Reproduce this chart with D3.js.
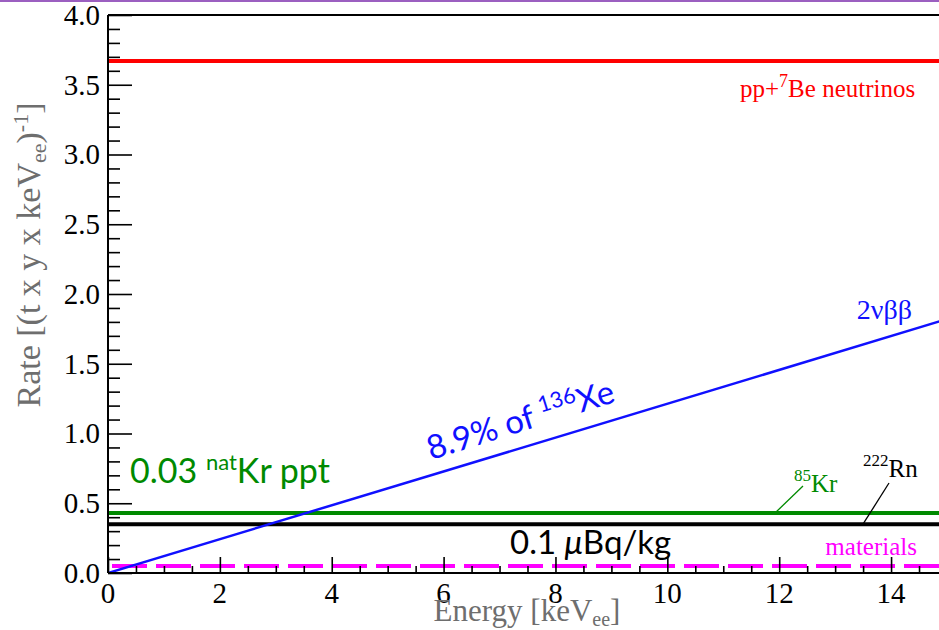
<!DOCTYPE html>
<html>
<head>
<meta charset="utf-8">
<script src="https://cdn.jsdelivr.net/npm/d3@7"></script>
<style>
  html, body { margin: 0; padding: 0; background: #fff; }
  svg { display: block; }
</style>
</head>
<body>
<svg id="chart" width="939" height="630"></svg>
<script>
// Background rates in the low-energy window
const energyRange = [0, 15];                 // keV_ee
const ppBeRate = [3.67, 3.67];               // pp + 7Be solar neutrinos
const krRate = [0.43, 0.43];                 // 85Kr at 0.03 ppt natKr
const rnRate = [0.35, 0.35];                 // 222Rn at 0.1 uBq/kg
const materialsRate = [0.05, 0.05];          // detector materials
const doubleBetaRate = [0.0, 1.82];          // 2vbb of 136Xe (linear rise)
const xTicks = [0, 2, 4, 6, 8, 10, 12, 14];
const yTicks = [0.0, 0.5, 1.0, 1.5, 2.0, 2.5, 3.0, 3.5, 4.0];

(function draw() {
const svg = d3.select("#chart");
const W = 939, H = 630;
const plotL = 108, plotT = 15, plotB = 573, plotR = 947;

const x = d3.scaleLinear().domain([0, 15]).range([plotL, plotR]);
const y = d3.scaleLinear().domain([0, 4]).range([plotB, plotT]);

svg.append("rect").attr("width", W).attr("height", H).attr("fill", "#fff");
// thin purple rule along the top of the slide
svg.append("rect").attr("x", 0).attr("y", 0).attr("width", W).attr("height", 2).attr("fill", "#9b5fc0");

const serif = "Liberation Serif, Times New Roman, serif";
const sans = "Lato, Open Sans, sans-serif";

svg.append("clipPath").attr("id", "plotclip")
  .append("rect").attr("x", plotL).attr("y", plotT).attr("width", plotR - plotL).attr("height", plotB - plotT);

const plot = svg.append("g").attr("clip-path", "url(#plotclip)");
const line = d3.line().x(d => x(d[0])).y(d => y(d[1]));
const series = (vals) => energyRange.map((e, i) => [e, vals[i]]);

plot.append("path").datum(series(ppBeRate)).attr("d", line)
  .attr("fill", "none").attr("stroke", "#ff0000").attr("stroke-width", 4);
plot.append("path").datum(series(krRate)).attr("d", line)
  .attr("fill", "none").attr("stroke", "#008a00").attr("stroke-width", 4);
plot.append("path").datum(series(rnRate)).attr("d", line)
  .attr("fill", "none").attr("stroke", "#000").attr("stroke-width", 4);
plot.append("path").datum(series(materialsRate)).attr("d", line)
  .attr("fill", "none").attr("stroke", "#ff00ff").attr("stroke-width", 4)
  .attr("stroke-dasharray", "35,9").attr("stroke-dashoffset", -4);
plot.append("path").datum(series(doubleBetaRate)).attr("d", line)
  .attr("fill", "none").attr("stroke", "#1010ff").attr("stroke-width", 2.5);

// Axes: ticks drawn inward
const yAxis = d3.axisRight(y)
  .tickValues(d3.range(0, 4.0001, 0.1))
  .tickSize(12).tickFormat("");
const gy = svg.append("g").attr("transform", `translate(${plotL},0)`).call(yAxis);
gy.selectAll(".tick line")
  .attr("x2", d => (Math.abs(d * 2 - Math.round(d * 2)) < 1e-6) ? 24 : 12)
  .attr("stroke", "#000").attr("stroke-width", 1.6);
gy.select(".domain").remove();

const xAxis = d3.axisTop(x)
  .tickValues(d3.range(0, 15.0001, 0.5))
  .tickSize(7).tickFormat("");
const gx = svg.append("g").attr("transform", `translate(0,${plotB})`).call(xAxis);
gx.selectAll(".tick line")
  .attr("y2", d => (Math.abs(d / 2 - Math.round(d / 2)) < 1e-6) ? -16 : -7)
  .attr("stroke", "#000").attr("stroke-width", 1.6);
gx.select(".domain").remove();

// Frame
svg.append("line").attr("x1", plotL).attr("x2", plotL).attr("y1", plotT).attr("y2", plotB)
  .attr("stroke", "#000").attr("stroke-width", 2);
svg.append("line").attr("x1", plotL).attr("x2", W).attr("y1", plotB).attr("y2", plotB)
  .attr("stroke", "#000").attr("stroke-width", 2);
svg.append("line").attr("x1", plotL).attr("x2", W).attr("y1", plotT).attr("y2", plotT)
  .attr("stroke", "#000").attr("stroke-width", 2);

// Tick labels
svg.append("g").selectAll("text").data(yTicks).join("text")
  .attr("x", 100).attr("y", d => y(d)).attr("dy", "0.34em")
  .attr("text-anchor", "end").style("font-family", serif).attr("font-size", 29)
  .attr("fill", "#000").text(d => d.toFixed(1));
svg.append("g").selectAll("text").data(xTicks).join("text")
  .attr("x", d => x(d)).attr("y", 603)
  .attr("text-anchor", "middle").style("font-family", serif).attr("font-size", 29)
  .attr("fill", "#000").text(d => d);

// Axis titles
const xt = svg.append("text").attr("x", 527).attr("y", 621).attr("text-anchor", "middle")
  .style("font-family", serif).attr("font-size", 31).attr("fill", "#6e6e6e");
xt.append("tspan").text("Energy [keV");
xt.append("tspan").attr("font-size", 20).attr("dy", 5).text("ee");
xt.append("tspan").attr("dy", -5).text("]");

const yt = svg.append("text").attr("transform", "translate(40,255) rotate(-90)")
  .attr("text-anchor", "middle").style("font-family", serif).attr("font-size", 34).attr("fill", "#6e6e6e");
yt.append("tspan").text("Rate [(t x y x keV");
yt.append("tspan").attr("font-size", 22).attr("dy", 6).text("ee");
yt.append("tspan").attr("dy", -6).text(")");
yt.append("tspan").attr("font-size", 22).attr("dy", -12).text("-1");
yt.append("tspan").attr("dy", 12).text("]");

// Annotations
const pp = svg.append("text").attr("x", 740).attr("y", 97)
  .style("font-family", serif).attr("font-size", 25).attr("fill", "#ff0000");
pp.append("tspan").text("pp+");
pp.append("tspan").attr("font-size", 18).attr("dy", -10).text("7");
pp.append("tspan").attr("dy", 10).text("Be neutrinos");

svg.append("text").attr("x", 912).attr("y", 319).attr("text-anchor", "end")
  .style("font-family", serif).attr("font-size", 28).attr("fill", "#1010ff").text("2νββ");

const xe = svg.append("text").attr("transform", "translate(431,460) rotate(-17.5)")
  .style("font-family", sans).attr("font-size", 33).attr("fill", "#1010ff");
xe.append("tspan").text("8.9% of ");
xe.append("tspan").attr("font-size", 22).attr("dy", -12).text("136");
xe.append("tspan").attr("dy", 12).text("Xe");

const nat = svg.append("text").attr("x", 130).attr("y", 483)
  .style("font-family", sans).attr("font-size", 34).attr("fill", "#008a00");
nat.append("tspan").text("0.03 ");
nat.append("tspan").attr("font-size", 22).attr("dy", -13).text("nat");
nat.append("tspan").attr("dy", 13).text("Kr ppt");

const bq = svg.append("text").attr("x", 510).attr("y", 554)
  .style("font-family", sans).attr("font-size", 33).attr("fill", "#000");
bq.append("tspan").text("0.1 ");
bq.append("tspan").attr("font-style", "italic").text("μ");
bq.append("tspan").text("Bq/kg");

svg.append("text").attr("x", 917).attr("y", 555).attr("text-anchor", "end")
  .style("font-family", serif).attr("font-size", 25).attr("fill", "#ff00ff").text("materials");

const kr = svg.append("text").attr("x", 794).attr("y", 492)
  .style("font-family", serif).attr("font-size", 25).attr("fill", "#008a00");
kr.append("tspan").attr("font-size", 17).attr("dy", -11).text("85");
kr.append("tspan").attr("dy", 11).text("Kr");
svg.append("line").attr("x1", 803).attr("y1", 486).attr("x2", 775).attr("y2", y(krRate[0]))
  .attr("stroke", "#008a00").attr("stroke-width", 1.3);

const rn = svg.append("text").attr("x", 863).attr("y", 477)
  .style("font-family", serif).attr("font-size", 25).attr("fill", "#000");
rn.append("tspan").attr("font-size", 17).attr("dy", -11).text("222");
rn.append("tspan").attr("dy", 11).text("Rn");
svg.append("line").attr("x1", 889).attr("y1", 483).attr("x2", 863).attr("y2", y(rnRate[0]))
  .attr("stroke", "#000").attr("stroke-width", 1.3);
})();
</script>
</body>
</html>
